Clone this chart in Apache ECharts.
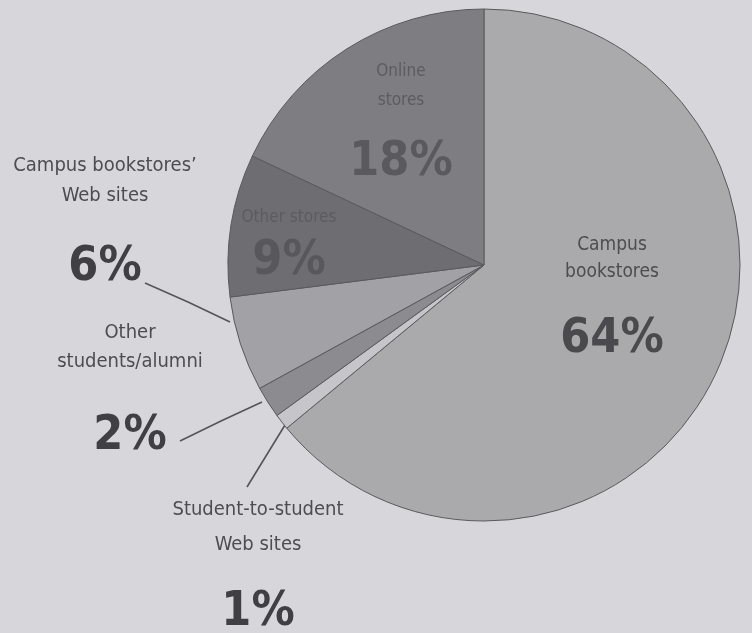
<!DOCTYPE html>
<html><head><meta charset="utf-8">
<script src="https://cdn.jsdelivr.net/npm/echarts@6/dist/echarts.min.js"></script>
<style>html,body{margin:0;padding:0;background:#d7d7db;}#c{width:752px;height:633px;}</style>
</head><body><div id="c"></div>
<script>
const categories = ["Campus\nbookstores", "Student-to-student\nWeb sites", "Other\nstudents/alumni", "Campus bookstores\u2019\nWeb sites", "Other stores", "Online\nstores"];
const values = [64, 1, 2, 6, 9, 18];
const sliceColors = ["#aaaaad", "#c6c6ca", "#8c8c90", "#a2a2a6", "#6e6e72", "#7e7e82"];

// label layout (block centers & leader lines), kept apart from data
const labelCenters = [[612, 313], [258, 578], [130, 408], [105, 238], [289, 249], [401, 134]];
const leaderLines = [null, [[285, 425], [266, 456], [247, 487]], [[262, 402], [221, 421], [180, 441]], [[230, 322], [188, 302], [145, 283]], null, null];
const richStyles = [
  {nl: 27, pl: 109, ns: 19, nc: "#4d4d51", pc: "#4a4a4e"},
  {nl: 35, pl: 101, ns: 20, nc: "#4d4d51", pc: "#404044"},
  {nl: 29, pl: 121, ns: 20, nc: "#4d4d51", pc: "#404044"},
  {nl: 30, pl: 114, ns: 20, nc: "#4d4d51", pc: "#404044"},
  {nl: 26, pl: 62, ns: 17, nc: "#5c5c60", pc: "#58585c"},
  {nl: 29, pl: 95, ns: 17, nc: "#5c5c60", pc: "#5a5a5e"}
];
const FONT = '"Liberation Sans Narrow", "DejaVu Sans Condensed", sans-serif';

const chart = echarts.init(document.getElementById('c'), null, {renderer: 'canvas'});
const data = values.map((v, i) => {
  const s = richStyles[i];
  return {
    value: v,
    name: categories[i],
    itemStyle: {color: sliceColors[i]},
    label: {
      show: true,
      position: leaderLines[i] ? 'outside' : 'inside',
      formatter: p => '{n|' + p.name.split('\n').join('}\n{n|') + '}\n{p|' + p.value + '%}',
      rich: {
        n: {fontSize: s.ns, lineHeight: s.nl, color: s.nc, fontFamily: FONT, align: 'center'},
        p: {fontSize: 48, lineHeight: s.pl, fontWeight: 'bold', color: s.pc, fontFamily: FONT, align: 'center'}
      }
    },
    labelLine: {show: !!leaderLines[i], lineStyle: {color: '#555559', width: 1.6}, length: 10, length2: 10}
  };
});

chart.setOption({
  backgroundColor: '#d7d7db',
  animation: false,
  series: [{
    type: 'pie',
    center: [484, 265],
    radius: 256,
    startAngle: 90,
    clockwise: true,
    avoidLabelOverlap: false,
    itemStyle: {borderColor: '#5a5a5e', borderWidth: 1},
    emphasis: {disabled: true},
    data: data,
    labelLayout: function (params) {
      const i = params.dataIndex;
      const c = labelCenters[i];
      const out = {x: c[0], y: c[1], align: 'center', verticalAlign: 'middle'};
      if (leaderLines[i]) out.labelLinePoints = leaderLines[i];
      return out;
    }
  }]
});
</script>
</body></html>
